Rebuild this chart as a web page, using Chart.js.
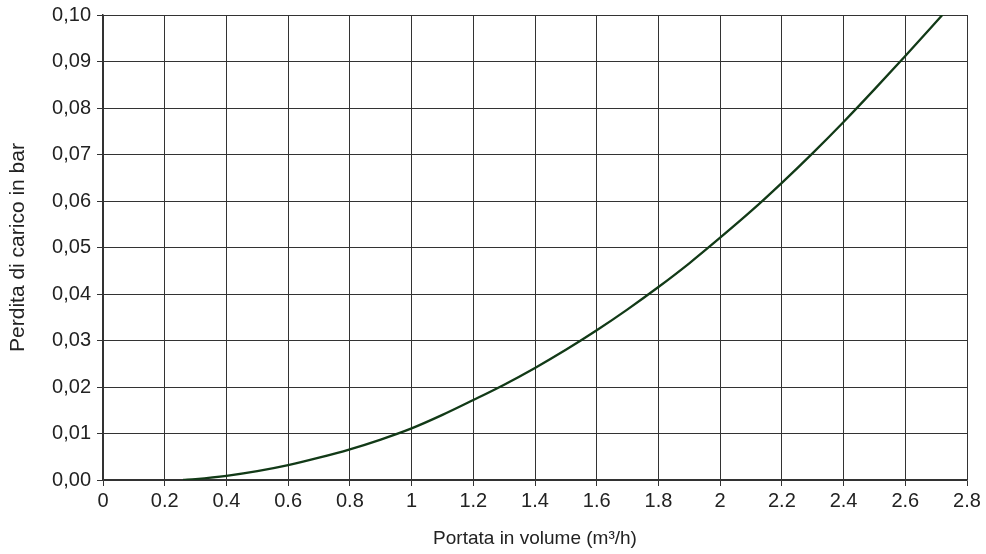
<!DOCTYPE html>
<html>
<head>
<meta charset="utf-8">
<script src="https://cdn.jsdelivr.net/npm/chart.js@4.4.1/dist/chart.umd.min.js"></script>
<style>
  html, body { margin: 0; padding: 0; background: #fff; }
  canvas { display: block; }
</style>
</head>
<body>
<canvas id="myChart" width="986" height="554"></canvas>
<script>
// portata (m3/h) e perdita di carico (bar)
const portata = [0.26, 0.3, 0.4, 0.5, 0.6, 0.7, 0.8, 0.9, 1.0, 1.1, 1.2, 1.3, 1.4, 1.5, 1.6, 1.7, 1.8, 1.9, 2.0, 2.1, 2.2, 2.3, 2.4, 2.5, 2.6, 2.72];
const perdita = [0, 0.0002, 0.0009, 0.0019, 0.0032, 0.0048, 0.0066, 0.0087, 0.0111, 0.0140, 0.0172, 0.0205, 0.0241, 0.0280, 0.0322, 0.0367, 0.0415, 0.0466, 0.0521, 0.0578, 0.0639, 0.0703, 0.0770, 0.0840, 0.0912, 0.1000];

const xTickLabels = ['0', '0.2', '0.4', '0.6', '0.8', '1', '1.2', '1.4', '1.6', '1.8', '2', '2.2', '2.4', '2.6', '2.8'];
const yTickLabels = ['0,00', '0,01', '0,02', '0,03', '0,04', '0,05', '0,06', '0,07', '0,08', '0,09', '0,10'];

const xTitle = 'Portata in volume (m\u00b3/h)';
const yTitle = 'Perdita di carico in bar';

const punti = [];
for (let i = 0; i < portata.length; i++) {
  punti.push({ x: portata[i], y: perdita[i] });
}

const family = '"Liberation Sans", Arial, sans-serif';
const textColor = '#222';

const data = {
  datasets: [{
    data: punti,
    showLine: true,
    borderColor: '#123a17',
    borderWidth: 2.3,
    pointRadius: 0,
    cubicInterpolationMode: 'monotone',
    fill: false
  }]
};

const config = {
  type: 'scatter',
  data,
  options: {
    responsive: false,
    animation: false,
    layout: { padding: { top: 15, right: 19, left: 0, bottom: 0 } },
    plugins: {
      legend: { display: false },
      tooltip: { enabled: false }
    },
    scales: {
      x: {
        type: 'linear',
        min: 0,
        max: 2.8,
        afterBuildTicks: function(scale) {
          scale.ticks = xTickLabels.map((t, i) => ({ value: i * 0.2 }));
        },
        ticks: {
          callback: function(value, index) { return xTickLabels[index]; },
          font: { family: family, size: 20 },
          color: textColor,
          padding: 3,
          maxRotation: 0,
          autoSkip: false
        },
        grid: { color: '#333', lineWidth: 1, tickLength: 6, tickColor: '#333' },
        border: { color: '#333', width: 1.5 },
        title: { display: true, text: xTitle, font: { family: family, size: 19 }, color: textColor, padding: { top: 0, bottom: 4 } },
        afterFit: function(scale) {
          scale.height = 74;
          scale.paddingLeft = 0;
          scale.paddingRight = 0;
        }
      },
      y: {
        type: 'linear',
        min: 0,
        max: 0.1,
        afterBuildTicks: function(scale) {
          scale.ticks = yTickLabels.map((t, i) => ({ value: i * 0.01 }));
        },
        ticks: {
          callback: function(value, index) { return yTickLabels[index]; },
          font: { family: family, size: 20 },
          color: textColor,
          padding: 6,
          autoSkip: false
        },
        grid: { color: '#333', lineWidth: 1, tickLength: 6, tickColor: '#333' },
        border: { color: '#333', width: 1.5 },
        title: { display: true, text: yTitle, font: { family: family, size: 21 }, color: textColor, padding: { top: 6, bottom: 0 } },
        afterFit: function(scale) {
          scale.width = 103;
          scale.paddingTop = 0;
          scale.paddingBottom = 0;
        }
      }
    }
  }
};

const myChart = new Chart(document.getElementById('myChart'), config);
</script>
</body>
</html>
